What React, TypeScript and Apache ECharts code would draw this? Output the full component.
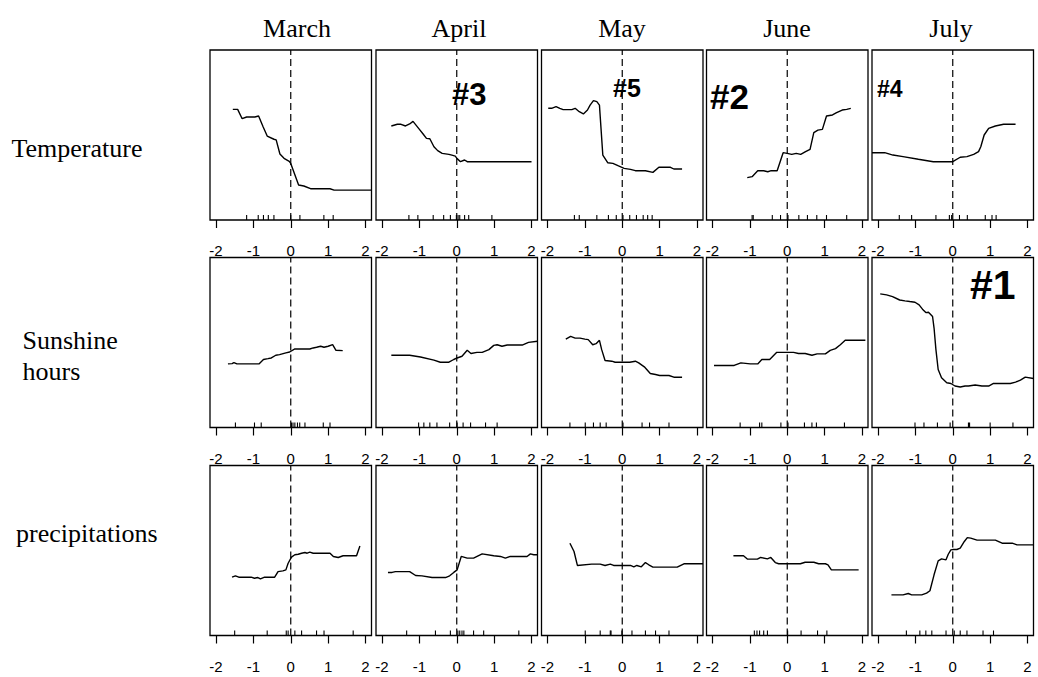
import React, { useEffect, useRef } from 'react';
import * as echarts from 'echarts';

const months = ['March', 'April', 'May', 'June', 'July'];
const rowLabels = ['Temperature', 'Sunshine\nhours', 'precipitations'];
const xTicks = [-2, -1, 0, 1, 2];
const xMin = -2.16;
const xMax = 2.16;

// Partial-dependence curves: [x, y] with y on a 0-100 panel scale
const tempMarch = [[-1.55,65.1],[-1.42,65.1],[-1.3,59.6],[-1.18,60.6],[-0.96,60.6],[-0.86,61.2],[-0.74,54.9],[-0.63,49.4],[-0.45,47.5],[-0.39,47.1],[-0.29,38.8],[-0.18,36.3],[-0.04,34.5],[0.0,33.3],[0.21,20.6],[0.35,20],[0.53,18.4],[1.05,18.4],[1.16,17.6],[2.16,17.6]];
const tempApril = [[-1.75,55.3],[-1.59,56.3],[-1.49,56.3],[-1.37,55.3],[-1.26,56.5],[-1.17,58],[-1.02,53.9],[-0.9,50.6],[-0.81,48],[-0.72,47.8],[-0.61,43.1],[-0.51,40.8],[-0.39,39.2],[-0.21,38.6],[-0.13,38.2],[-0.04,37.6],[0.01,36.1],[0.1,34.3],[0.21,35.3],[0.28,34.3],[2.0,34.3]];
const tempMay = [[-1.98,65.7],[-1.89,65.7],[-1.77,66.7],[-1.67,65.7],[-1.58,64.9],[-1.35,64.9],[-1.26,65.7],[-1.15,63.7],[-1.04,62.4],[-0.93,64.7],[-0.86,67.6],[-0.77,70.2],[-0.68,69.6],[-0.61,67.6],[-0.52,38.2],[-0.39,33.7],[-0.25,33.3],[-0.1,31.8],[0.05,30.4],[0.22,29.8],[0.35,29],[0.62,29],[0.82,28],[0.98,31],[1.29,31],[1.38,30],[1.6,30]];
const tempJune = [[-1.07,24.9],[-0.94,25.5],[-0.79,29],[-0.63,29],[-0.52,28.4],[-0.43,29],[-0.27,29],[-0.11,39.6],[0,39.2],[0.12,38.6],[0.24,39.2],[0.36,38.6],[0.49,40.2],[0.61,41.6],[0.71,51.4],[0.82,52.9],[0.94,53.3],[1.05,61.2],[1.21,61.8],[1.32,63.1],[1.47,64.7],[1.59,65.1],[1.7,65.7]];
const tempJuly = [[-2.16,39.6],[-1.82,39.6],[-1.6,38.2],[-1.33,37.3],[-0.92,35.7],[-0.52,34.3],[0,34.3],[0.2,36.9],[0.38,37.3],[0.56,38.6],[0.69,40.2],[0.75,43.1],[0.84,50],[0.96,53.9],[1.14,55.3],[1.36,56.3],[1.68,56.3]];

const sunMarch = [[-1.68,37.4],[-1.57,37.6],[-1.52,38.2],[-1.44,37.4],[-0.85,37.4],[-0.73,40],[-0.61,40.5],[-0.52,40.9],[-0.4,42.5],[-0.3,42.9],[-0.13,43.9],[-0.03,44.4],[0.11,46.2],[0.51,46.2],[0.6,46.8],[0.69,47.2],[0.8,47.8],[0.89,47.2],[1.0,47.8],[1.12,48.7],[1.21,45.4],[1.39,45.2]];
const sunApril = [[-1.75,42.5],[-1.26,42.5],[-0.97,41.5],[-0.61,39.6],[-0.44,38.4],[-0.21,38.4],[-0.08,40],[0.01,40.9],[0.14,41.9],[0.28,45.4],[0.38,43.5],[0.54,44.2],[0.68,44.2],[0.86,45.8],[0.99,48.3],[1.08,48.7],[1.21,47.8],[1.35,48.5],[1.75,48.5],[1.92,50.1],[2.16,50.7]];
const sunMay = [[-1.51,52],[-1.38,53.6],[-1.26,52.6],[-1.13,52.6],[-1.0,52],[-0.91,51.7],[-0.79,48.7],[-0.7,49.3],[-0.61,51.3],[-0.55,45.8],[-0.46,39.4],[-0.28,39],[-0.19,38.4],[0.2,38.4],[0.35,39],[0.44,38],[0.59,35.7],[0.75,31.8],[0.89,31.2],[1.0,30.6],[1.25,30.6],[1.38,29.6],[1.6,29.6]];
const sunJune = [[-1.96,36.5],[-1.42,36.5],[-1.24,38],[-0.99,37.4],[-0.79,37.4],[-0.68,40],[-0.47,40],[-0.28,44.2],[0.17,44.2],[0.3,43.5],[0.48,43.5],[0.66,42.5],[0.8,43.3],[1.02,43.3],[1.15,45.4],[1.29,46.4],[1.42,48.7],[1.55,51.3],[2.09,51.3]];
const sunJuly = [[-1.94,78.6],[-1.77,78],[-1.61,77],[-1.42,75],[-1.28,74.5],[-1.15,74.1],[-1.01,73.7],[-0.9,72.1],[-0.81,69.6],[-0.72,67.6],[-0.65,67.8],[-0.61,66.9],[-0.54,65.3],[-0.5,58.5],[-0.45,45.8],[-0.39,34.1],[-0.3,29.2],[-0.16,26.3],[-0.05,25.9],[0.06,24.4],[0.2,23.8],[0.33,24.4],[0.42,24.4],[0.6,25],[0.78,24.4],[0.96,24.4],[1.09,25.9],[1.54,25.9],[1.68,26.7],[1.81,27.9],[1.94,29.6],[2.16,28.8]];

const precMarch = [[-1.57,34.3],[-1.48,35.1],[-1.39,34.3],[-1.06,34.3],[-0.97,33.7],[-0.88,34.1],[-0.81,33.3],[-0.7,34.3],[-0.43,34.3],[-0.34,37.6],[-0.21,38],[-0.13,38.6],[-0.07,42.5],[0.02,46.1],[0.11,47.5],[0.2,47.8],[0.29,48.4],[0.38,48.8],[0.44,48.4],[0.51,49],[0.6,48.4],[1.05,48.4],[1.14,46.5],[1.27,45.9],[1.4,46.9],[1.76,46.9],[1.85,52.7]];
const precApril = [[-1.84,37.1],[-1.73,37.1],[-1.64,37.6],[-1.26,37.6],[-1.1,35.3],[-0.93,35.1],[-0.66,34.1],[-0.3,34.1],[-0.19,35.1],[-0.08,37.1],[0.01,38.6],[0.12,46.5],[0.28,45.5],[0.45,45.5],[0.68,48],[0.99,46.9],[1.17,46.5],[1.3,45.5],[1.43,46.5],[1.88,46.5],[1.97,48],[2.06,47.5],[2.16,47.5]];
const precMay = [[-1.4,54.3],[-1.29,49.4],[-1.2,41.2],[-0.82,42],[-0.59,42],[-0.46,41.2],[-0.32,42],[-0.23,41.2],[0.22,41.2],[0.31,40.4],[0.39,41.2],[0.51,40.4],[0.62,42.9],[0.71,41.6],[0.82,40.2],[1.47,40.2],[1.65,42.2],[2.16,42.2]];
const precJune = [[-1.44,46.9],[-1.17,46.9],[-1.06,44.9],[-0.8,44.9],[-0.71,45.9],[-0.53,45.1],[-0.44,45.9],[-0.32,42.9],[-0.23,42.2],[0.35,42.2],[0.48,43.1],[0.71,43.1],[0.84,42.2],[1.02,42.2],[1.09,41.6],[1.18,38.6],[1.91,38.6]];
const precJuly = [[-1.64,23.9],[-1.33,23.9],[-1.19,24.7],[-1.1,23.9],[-0.83,23.9],[-0.7,24.9],[-0.61,26.3],[-0.5,35.7],[-0.39,43.9],[-0.3,45.1],[-0.18,44.5],[-0.12,47.8],[-0.05,50.4],[0.02,50.6],[0.11,50.6],[0.2,51.4],[0.31,55.3],[0.39,57.6],[0.48,57.3],[0.65,56.1],[1.14,56.1],[1.32,54.3],[1.59,54.3],[1.72,53.3],[2.16,53.3]];

// Rug (decile) positions
const rugTempMarch = [-1.18, -0.87, -0.73, -0.6, -0.45, 0, 0.245, 0.886, 1.135];
const rugTempApril = [-1.28, -1.04, -0.63, -0.35, -0.17, -0.01, 0.036, 0.08, 0.21, 0.32, 0.94];
const rugTempMay = [-1.28, -1.15, -0.68, -0.37, -0.16, 0.02, 0.2, 0.38, 0.56, 0.68, 0.8];
const rugTempJune = [-0.94, -0.91, -0.4, -0.18, 0.02, 0.31, 0.54, 0.79, 1.05, 1.59];
const rugTempJuly = [-1.43, -1.1, -0.45, -0.09, -0.03, 0.18, 0.39, 0.87, 1.05, 1.16];
const rugSunMarch = [-1.48, -0.97, -0.79, 0.02, 0.06, 0.11, 0.18, 0.24, 0.38, 0.87, 1.05];
const rugSunApril = [-1.02, -0.88, -0.72, -0.53, -0.19, 0.01, 0.17, 0.37, 0.77, 1.08];
const rugSunMay = [-1.4, -0.99, -0.77, -0.59, -0.43, 0.02, 0.53, 0.73, 1.25];
const rugSunJune = [-1.26, -0.74, -0.68, -0.17, 0.02, 0.46, 0.66, 0.78, 1.53];
const rugSunJuly = [-1.01, -0.77, -0.41, -0.07, 0.42, 0.45, 1.0, 1.61];
const rugPrecMarch = [-1.5, -0.63, -0.12, -0.07, 0.11, 0.29, 0.69, 0.89, 1.67];
const rugPrecApril = [-1.34, -0.57, -0.17, 0.03, 0.08, 0.14, 0.19, 0.45, 0.72, 1.66];
const rugPrecMay = [-0.99, -0.59, -0.32, -0.3, -0.01, 0.26, 0.62, 0.89, 1.25];
const rugPrecJune = [-0.88, -0.81, -0.74, -0.63, -0.53, 0.01, 0.37, 0.81, 1.06];
const rugPrecJuly = [-1.24, -0.88, -0.72, -0.56, -0.18, 0.04, 0.2, 0.38, 0.81, 1.09];

const rankTags = ['#1', '#2', '#3', '#4', '#5'];

const curves = [
  [tempMarch, tempApril, tempMay, tempJune, tempJuly],
  [sunMarch, sunApril, sunMay, sunJune, sunJuly],
  [precMarch, precApril, precMay, precJune, precJuly],
];
const rugs = [
  [rugTempMarch, rugTempApril, rugTempMay, rugTempJune, rugTempJuly],
  [rugSunMarch, rugSunApril, rugSunMay, rugSunJune, rugSunJuly],
  [rugPrecMarch, rugPrecApril, rugPrecMay, rugPrecJune, rugPrecJuly],
];

// layout
const colLeft = [210, 376, 541.5, 706.5, 872];
const colWidth = 161.5;
const rowTop = [50, 257.5, 465.5];
const rowHeight = 170;
const titleX = [297, 459, 622, 787, 951];
const rowLabelPos = [
  { x: 11.5, y: 148 },
  { x: 22.5, y: 355.5 },
  { x: 16, y: 533 },
];
const tagPos = [
  { x: 970, y: 285, size: 41 },
  { x: 710, y: 96, size: 35 },
  { x: 452, y: 94.5, size: 31 },
  { x: 877, y: 88.5, size: 23 },
  { x: 613, y: 88, size: 25 },
];

export default function App() {
  const ref = useRef<HTMLDivElement>(null);
  useEffect(() => {
    document.body.style.margin = '0';
    const chart = echarts.init(ref.current as HTMLDivElement, null, { renderer: 'svg' });
    const grids: any[] = [];
    const xAxes: any[] = [];
    const yAxes: any[] = [];
    const series: any[] = [];
    let idx = 0;
    for (let r = 0; r < 3; r++) {
      for (let c = 0; c < 5; c++) {
        grids.push({
          left: colLeft[c], top: rowTop[r], width: colWidth, height: rowHeight,
          show: true, borderColor: '#000', borderWidth: 1.3, backgroundColor: 'transparent',
        });
        xAxes.push({
          type: 'value', gridIndex: idx, min: xMin, max: xMax,
          axisLine: { show: false },
          splitLine: { show: false },
          axisTick: { show: true, length: 8, inside: false, customValues: xTicks, lineStyle: { color: '#000', width: 1.2 } },
          axisLabel: { show: true, customValues: xTicks, margin: 23, fontSize: 15, color: '#000', fontFamily: 'Liberation Sans, Arial, sans-serif' },
        });
        yAxes.push({ type: 'value', gridIndex: idx, min: 0, max: 100, show: false });
        series.push({
          type: 'line', xAxisIndex: idx, yAxisIndex: idx, data: [[0, 0], [0, 100]],
          showSymbol: false, symbol: 'none', silent: true,
          lineStyle: { color: '#000', width: 1.2, type: [7, 4] }, z: 2,
        });
        series.push({
          type: 'line', xAxisIndex: idx, yAxisIndex: idx, data: curves[r][c],
          showSymbol: false, symbol: 'none', silent: true, clip: true,
          lineStyle: { color: '#000', width: 1.4 }, z: 3,
        });
        series.push({
          type: 'custom', xAxisIndex: idx, yAxisIndex: idx, silent: true,
          data: rugs[r][c].map((v) => [v, 0]),
          renderItem: (params: any, api: any) => {
            const p = api.coord([api.value(0), 0]);
            return {
              type: 'line',
              shape: { x1: p[0], y1: p[1], x2: p[0], y2: p[1] - 5 },
              style: { stroke: '#000', lineWidth: 1.1 },
            };
          },
          z: 3,
        });
        idx++;
      }
    }
    const graphic: any[] = [];
    months.forEach((m, i) => {
      graphic.push({
        type: 'text', x: titleX[i], y: 28,
        style: { text: m, fontSize: 26, fontFamily: 'Liberation Serif, Times New Roman, serif', fill: '#000', align: 'center', verticalAlign: 'middle' },
      });
    });
    rowLabels.forEach((t, i) => {
      graphic.push({
        type: 'text', x: rowLabelPos[i].x, y: rowLabelPos[i].y,
        style: { text: t, fontSize: 26, lineHeight: 31, fontFamily: 'Liberation Serif, Times New Roman, serif', fill: '#000', align: 'left', verticalAlign: 'middle' },
      });
    });
    rankTags.forEach((t, i) => {
      graphic.push({
        type: 'text', x: tagPos[i].x, y: tagPos[i].y,
        style: { text: t, fontSize: tagPos[i].size, fontWeight: 'bold', fontFamily: 'Liberation Sans, Arial, sans-serif', fill: '#000', align: 'left', verticalAlign: 'middle' },
      });
    });
    chart.setOption({
      animation: false,
      grid: grids,
      xAxis: xAxes,
      yAxis: yAxes,
      series,
      graphic,
    });
    return () => chart.dispose();
  }, []);
  return <div ref={ref} style={{ width: 1038, height: 677 }} />;
}
